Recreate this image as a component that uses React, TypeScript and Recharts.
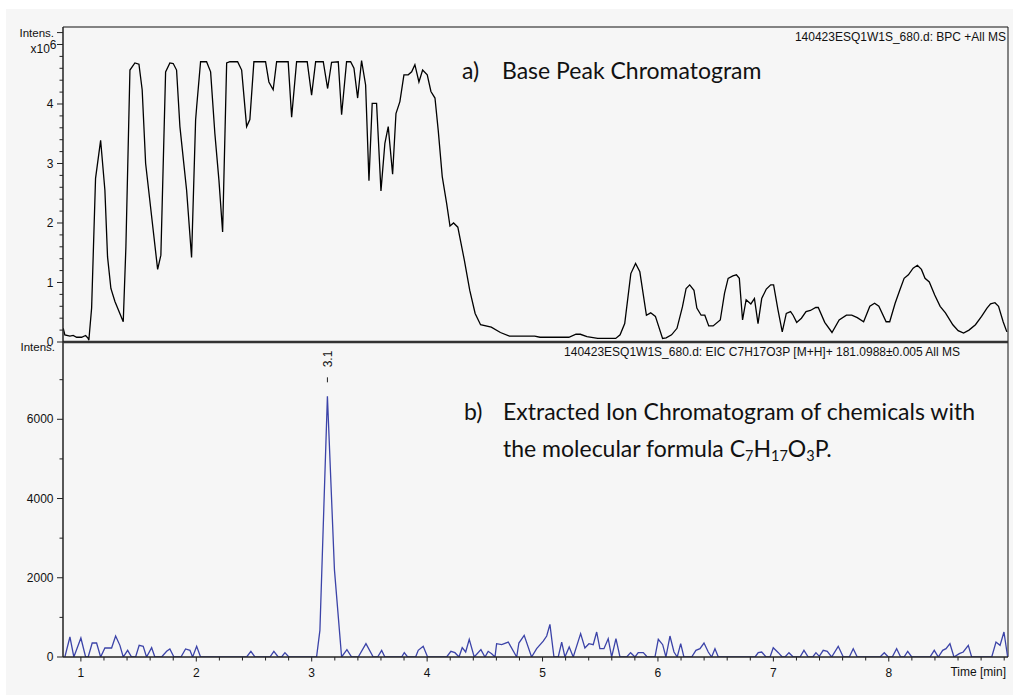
import React from 'react'
import { LineChart, Line, XAxis, YAxis, ReferenceLine, ReferenceDot } from 'recharts'

// retention time (min) / base peak intensity (x10^6)
const bpcTime = [
  0.847, 0.861, 0.905, 0.933, 0.963, 1.006, 1.041, 1.063, 1.069, 1.093,
  1.127, 1.171, 1.208, 1.231, 1.260, 1.295, 1.367, 1.390, 1.425, 1.468,
  1.503, 1.531, 1.561, 1.613, 1.665, 1.693, 1.734, 1.771, 1.800, 1.829,
  1.858, 1.916, 1.959, 1.994, 2.003, 2.037, 2.089, 2.124, 2.161, 2.196,
  2.228, 2.263, 2.291, 2.358, 2.393, 2.436, 2.464, 2.499, 2.600, 2.629,
  2.666, 2.696, 2.796, 2.826, 2.869, 2.961, 2.999, 3.034, 3.100, 3.138,
  3.172, 3.230, 3.259, 3.302, 3.337, 3.366, 3.398, 3.432, 3.467, 3.496,
  3.524, 3.562, 3.600, 3.634, 3.663, 3.701, 3.730, 3.764, 3.799, 3.836,
  3.866, 3.894, 3.929, 3.961, 4.001, 4.033, 4.068, 4.096, 4.131, 4.169,
  4.198, 4.229, 4.266, 4.322, 4.369, 4.416, 4.463, 4.556, 4.635, 4.713,
  4.932, 4.978, 5.228, 5.290, 5.328, 5.385, 5.478, 5.634, 5.672, 5.712,
  5.765, 5.806, 5.843, 5.900, 5.937, 5.978, 6.040, 6.071, 6.118, 6.165,
  6.212, 6.244, 6.275, 6.312, 6.337, 6.374, 6.406, 6.440, 6.478, 6.540,
  6.577, 6.608, 6.649, 6.680, 6.705, 6.733, 6.764, 6.805, 6.836, 6.867,
  6.899, 6.939, 6.977, 7.002, 7.040, 7.077, 7.112, 7.149, 7.171, 7.202,
  7.243, 7.283, 7.321, 7.367, 7.389, 7.445, 7.508, 7.570, 7.633, 7.679,
  7.727, 7.782, 7.836, 7.877, 7.914, 7.977, 8.008, 8.055, 8.095, 8.133,
  8.170, 8.211, 8.248, 8.283, 8.314, 8.351, 8.398, 8.445, 8.491, 8.555,
  8.601, 8.648, 8.695, 8.751, 8.804, 8.851, 8.882, 8.920, 8.951, 8.991,
  9.023,
]
const bpcIntensity = [
  0.23, 0.12, 0.10, 0.11, 0.08, 0.08, 0.11, 0.06, 0.03, 0.57,
  2.75, 3.39, 2.55, 1.43, 0.90, 0.68, 0.34, 1.60, 4.57, 4.69,
  4.67, 4.24, 3.00, 2.11, 1.22, 1.46, 4.54, 4.69, 4.68, 4.57,
  3.62, 2.55, 1.42, 3.73, 3.95, 4.71, 4.71, 4.54, 3.50, 2.72,
  1.85, 4.69, 4.71, 4.71, 4.57, 3.62, 3.74, 4.71, 4.71, 4.37,
  4.24, 4.71, 4.71, 3.78, 4.71, 4.71, 4.15, 4.71, 4.71, 4.26,
  4.70, 4.71, 3.82, 4.71, 4.71, 4.60, 4.10, 4.73, 4.32, 2.71,
  4.01, 4.01, 2.54, 3.34, 3.62, 2.82, 3.84, 4.04, 4.49, 4.49,
  4.54, 4.66, 4.37, 4.57, 4.49, 4.21, 4.10, 3.56, 2.78, 2.33,
  1.95, 2.00, 1.93, 1.38, 0.87, 0.48, 0.29, 0.25, 0.16, 0.10,
  0.10, 0.08, 0.08, 0.13, 0.13, 0.09, 0.06, 0.06, 0.12, 0.31,
  1.15, 1.32, 1.18, 0.45, 0.49, 0.43, 0.06, 0.07, 0.12, 0.23,
  0.59, 0.90, 0.96, 0.87, 0.57, 0.45, 0.45, 0.27, 0.27, 0.37,
  0.82, 1.07, 1.11, 1.13, 1.07, 0.37, 0.71, 0.64, 0.73, 0.31,
  0.73, 0.89, 0.96, 0.96, 0.54, 0.17, 0.48, 0.51, 0.45, 0.33,
  0.40, 0.51, 0.53, 0.58, 0.58, 0.33, 0.16, 0.37, 0.45, 0.45,
  0.41, 0.34, 0.60, 0.65, 0.60, 0.34, 0.34, 0.65, 0.87, 1.07,
  1.13, 1.24, 1.29, 1.22, 1.07, 1.01, 0.79, 0.60, 0.49, 0.29,
  0.19, 0.15, 0.20, 0.29, 0.43, 0.57, 0.64, 0.66, 0.60, 0.34,
  0.17,
]

// extracted ion chromatogram, C7H17O3P [M+H]+
const eicTime = [
  0.861, 0.905, 0.939, 1.000, 1.041, 1.063, 1.098, 1.136, 1.171, 1.208,
  1.266, 1.301, 1.338, 1.367, 1.405, 1.439, 1.474, 1.505, 1.540, 1.569,
  1.613, 1.641, 1.699, 1.743, 1.771, 1.806, 1.867, 1.907, 1.945, 1.968,
  2.003, 2.037, 2.436, 2.473, 2.508, 2.638, 2.672, 2.710, 2.739, 2.768,
  2.802, 3.042, 3.071, 3.136, 3.197, 3.259, 3.305, 3.346, 3.403, 3.470,
  3.533, 3.571, 3.606, 3.634, 3.779, 3.802, 3.831, 3.900, 3.923, 3.966,
  4.004, 4.169, 4.206, 4.241, 4.276, 4.304, 4.334, 4.365, 4.408, 4.466,
  4.501, 4.529, 4.559, 4.588, 4.602, 4.646, 4.703, 4.776, 4.795, 4.841,
  4.905, 4.949, 5.006, 5.036, 5.064, 5.099, 5.136, 5.166, 5.194, 5.231,
  5.266, 5.330, 5.367, 5.402, 5.439, 5.469, 5.497, 5.532, 5.569, 5.599,
  5.636, 5.671, 5.729, 5.763, 5.801, 5.829, 5.873, 5.907, 5.974, 6.003,
  6.041, 6.069, 6.104, 6.139, 6.167, 6.197, 6.225, 6.292, 6.329, 6.364,
  6.399, 6.436, 6.465, 6.494, 6.523, 6.841, 6.869, 6.899, 6.936, 6.971,
  6.999, 7.043, 7.077, 7.101, 7.135, 7.172, 7.231, 7.265, 7.302, 7.341,
  7.369, 7.398, 7.432, 7.467, 7.505, 7.562, 7.606, 7.658, 7.692, 7.727,
  7.924, 7.961, 7.996, 8.030, 8.068, 8.103, 8.132, 8.164, 8.199, 8.357,
  8.394, 8.429, 8.467, 8.496, 8.530, 8.565, 8.611, 8.645, 8.689, 8.718,
  8.892, 8.929, 8.964, 8.998, 9.030,
]
const eicIntensity = [
  0, 505, 0, 480, 0, 0, 353, 353, 0, 227,
  227, 530, 294, 0, 168, 0, 0, 294, 269, 0,
  235, 0, 0, 143, 202, 0, 0, 202, 168, 0,
  269, 0, 0, 143, 0, 0, 143, 0, 0, 109,
  0, 0, 673, 6580, 2200, 0, 185, 0, 0, 336,
  0, 0, 168, 0, 0, 109, 0, 0, 168, 269,
  0, 0, 143, 109, 0, 235, 126, 446, 0, 185,
  0, 143, 84, 0, 336, 311, 378, 0, 353, 547,
  0, 210, 400, 530, 824, 0, 0, 378, 0, 252,
  0, 589, 227, 336, 311, 631, 210, 210, 463, 0,
  463, 0, 0, 109, 0, 109, 109, 0, 0, 446,
  311, 0, 530, 126, 0, 336, 0, 0, 168, 210,
  353, 126, 0, 210, 0, 0, 109, 126, 0, 0,
  235, 109, 0, 0, 109, 0, 0, 168, 0, 0,
  109, 17, 168, 143, 0, 269, 0, 0, 210, 0,
  0, 109, 0, 0, 210, 0, 0, 143, 0, 0,
  168, 0, 168, 210, 336, 0, 84, 126, 294, 0,
  0, 378, 294, 631, 0,
]

const peakTime = 3.136
const peakIntensity = 6580
const peakLabel = '3.1'

const timeTicks = [
  1, 1.2, 1.4, 1.6, 1.8, 2, 2.2, 2.4, 2.6, 2.8, 3, 3.2, 3.4, 3.6, 3.8,
  4, 4.2, 4.4, 4.6, 4.8, 5, 5.2, 5.4, 5.6, 5.8, 6, 6.2, 6.4, 6.6, 6.8,
  7, 7.2, 7.4, 7.6, 7.8, 8, 8.2, 8.4, 8.6, 8.8, 9,
]
const timeLabelValues = [1, 2, 3, 4, 5, 6, 7, 8]
const timeLabels = ['1', '2', '3', '4', '5', '6', '7', '8']

const bpcTicks = [
  0, 0.2, 0.4, 0.6, 0.8, 1, 1.2, 1.4, 1.6, 1.8, 2, 2.2, 2.4, 2.6, 2.8,
  3, 3.2, 3.4, 3.6, 3.8, 4, 4.2, 4.4, 4.6, 4.8, 5, 5.2,
]
const bpcLabelValues = [0, 1, 2, 3, 4, 5, 5.2]
const bpcLabels = ['0', '1', '2', '3', '4', 'x10^6', 'Intens.']

const eicTicks = [0, 1000, 2000, 3000, 4000, 5000, 6000, 7000]
const eicLabelValues = [0, 2000, 4000, 6000]
const eicLabels = ['0', '2000', '4000', '6000']

const X_DOMAIN = [0.845, 9.033]
const BPC_MAX = 5.294
const EIC_MAX = 7951

const bpcData = bpcTime.map((t, i) => ({ t, v: bpcIntensity[i] }))
const eicData = eicTime.map((t, i) => ({ t, v: eicIntensity[i] }))

const AX = '#222'
const sans = '"Liberation Sans", Arial, sans-serif'
const body = 'Lato, "Open Sans", sans-serif'

const findIdx = (vals: number[], v: number) => vals.findIndex((t) => Math.abs(t - v) < 1e-6)

const makeYTick = (vals: number[], labels: string[]) => (props: any) => {
  const { x, y, payload } = props
  const i = findIdx(vals, payload.value)
  const len = i >= 0 ? 6 : 3.5
  const label = i >= 0 ? labels[i] : null
  return (
    <g>
      <line x1={x - len} x2={x} y1={y} y2={y} stroke={AX} strokeWidth={1} />
      {label === 'x10^6' ? (
        <text x={x - 6.5} y={y + 9} textAnchor="end" fontFamily={sans} fontSize={12} fill="#111">
          x10<tspan dy={-4.5}>6</tspan>
        </text>
      ) : label === 'Intens.' ? (
        <text x={x - 9} y={y + 4} textAnchor="end" fontFamily={sans} fontSize={11.5} fill="#111">{label}</text>
      ) : label !== null ? (
        <text x={x - 9.5} y={y + 4.2} textAnchor="end" fontFamily={sans} fontSize={12} fill="#111">{label}</text>
      ) : null}
    </g>
  )
}

const BpcTick = makeYTick(bpcLabelValues, bpcLabels)
const EicTick = makeYTick(eicLabelValues, eicLabels)

const TimeTick = (props: any) => {
  const { x, y, payload } = props
  const i = findIdx(timeLabelValues, payload.value)
  return (
    <g>
      <line x1={x} x2={x} y1={y} y2={y + (i >= 0 ? 4.5 : 3.5)} stroke={AX} strokeWidth={1} />
      {i >= 0 && (
        <text x={x} y={y + 19.5} textAnchor="middle" fontFamily={sans} fontSize={12} fill="#111">{timeLabels[i]}</text>
      )}
    </g>
  )
}

const PeakLabel = (props: any) => {
  const vb = props.viewBox
  const cx = vb.x + vb.width / 2
  const top = vb.y
  return (
    <g>
      <line x1={cx} x2={cx} y1={top - 19} y2={top - 14} stroke="#222" strokeWidth={1} />
      <text
        transform={`translate(${cx + 0.5}, ${top - 29}) rotate(-90)`}
        textAnchor="start"
        dominantBaseline="central"
        fontFamily={sans}
        fontSize={12}
        fill="#111"
      >
        {peakLabel}
      </text>
    </g>
  )
}

export default function App() {
  return (
    <div style={{ position: 'absolute', left: 0, top: 0, width: 1013, height: 695, background: '#fff', overflow: 'hidden' }}>
      <div style={{ position: 'absolute', left: 6, top: 9, width: 1007, height: 686, background: '#f6f6f6' }} />

      <div style={{ position: 'absolute', left: 0, top: 330 }}>
        <LineChart width={1013} height={365} data={eicData} margin={{ top: 12, right: 5, bottom: 0, left: 0 }}>
          <XAxis
            type="number"
            dataKey="t"
            domain={X_DOMAIN}
            allowDataOverflow
            ticks={timeTicks}
            interval={0}
            height={38}
            tickLine={false}
            tickSize={0}
            tickMargin={0}
            tick={TimeTick}
            axisLine={{ stroke: AX, strokeWidth: 1.5 }}
          />
          <YAxis
            type="number"
            domain={[0, EIC_MAX]}
            allowDataOverflow
            ticks={eicTicks}
            interval={0}
            width={63}
            tickLine={false}
            tickSize={0}
            tickMargin={0}
            tick={EicTick}
            axisLine={{ stroke: AX, strokeWidth: 1.5 }}
          />
          <ReferenceLine x={X_DOMAIN[1]} stroke="#111" strokeWidth={1} />
          <Line type="linear" dataKey="v" stroke="#3b43a8" strokeWidth={1.3} dot={false} isAnimationActive={false} />
          <ReferenceDot x={peakTime} y={peakIntensity} r={0} fill="none" stroke="none" label={PeakLabel} />
        </LineChart>
      </div>

      <div style={{ position: 'absolute', left: 0, top: 0 }}>
        <LineChart width={1013} height={352} data={bpcData} margin={{ top: 27, right: 5, bottom: 10, left: 0 }}>
          <XAxis type="number" dataKey="t" domain={X_DOMAIN} allowDataOverflow hide />
          <YAxis
            type="number"
            domain={[0, BPC_MAX]}
            allowDataOverflow
            ticks={bpcTicks}
            interval={0}
            width={63}
            tickLine={false}
            tickSize={0}
            tickMargin={0}
            tick={BpcTick}
            axisLine={{ stroke: AX, strokeWidth: 1.5 }}
          />
          <ReferenceLine y={BPC_MAX} stroke="#111" strokeWidth={1} />
          <ReferenceLine x={X_DOMAIN[1]} stroke="#111" strokeWidth={1} />
          <Line type="linear" dataKey="v" stroke="#000" strokeWidth={1.3} dot={false} isAnimationActive={false} />
          <ReferenceLine y={0} stroke="#333" strokeWidth={2.5} />
        </LineChart>
      </div>

      <svg width={1013} height={695} style={{ position: 'absolute', left: 0, top: 0, pointerEvents: 'none' }}>
        <text x={1006} y={41} textAnchor="end" fontFamily={sans} fontSize={12} fill="#111">140423ESQ1W1S_680.d: BPC +All MS</text>
        <text x={960} y={356} textAnchor="end" fontFamily={sans} fontSize={12} fill="#111">140423ESQ1W1S_680.d: EIC C7H17O3P [M+H]+ 181.0988±0.005 All MS</text>
        <text x={55} y={351} textAnchor="end" fontFamily={sans} fontSize={11.5} fill="#111">Intens.</text>
        <text x={1006} y={676} textAnchor="end" fontFamily={sans} fontSize={12} fill="#111">Time [min]</text>

        <text x={462} y={79} fontFamily={body} fontSize={23} fill="#111">a)</text>
        <text x={502} y={79} fontFamily={body} fontSize={23} fill="#111">Base Peak Chromatogram</text>
        <text x={464} y={420} fontFamily={body} fontSize={23} fill="#111">b)</text>
        <text x={503} y={420} fontFamily={body} fontSize={23} fill="#111">Extracted Ion Chromatogram of chemicals with</text>
        <text x={503} y={457} fontFamily={body} fontSize={23} fill="#111">
          the molecular formula C<tspan fontSize={14.5} dy={4}>7</tspan>
          <tspan dy={-4}>H</tspan><tspan fontSize={14.5} dy={4}>17</tspan>
          <tspan dy={-4}>O</tspan><tspan fontSize={14.5} dy={4}>3</tspan>
          <tspan dy={-4}>P.</tspan>
        </text>
      </svg>
    </div>
  )
}
